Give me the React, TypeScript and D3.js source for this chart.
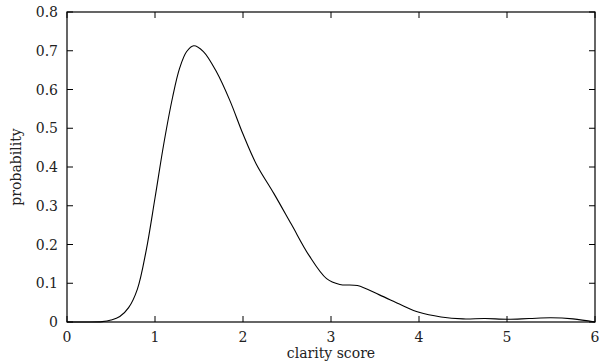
import React from "react";
import * as d3 from "d3";

const xs = [0, 0.2, 0.4, 0.5, 0.6, 0.7, 0.8, 0.9, 1.0, 1.1, 1.2, 1.28, 1.36, 1.44, 1.55, 1.7, 1.85, 2.0, 2.15, 2.35, 2.55, 2.75, 2.95, 3.1, 3.3, 3.55, 3.8, 4.0, 4.25, 4.5, 4.75, 5.0, 5.25, 5.5, 5.75, 6.0];
const ys = [0, 0, 0.001, 0.005, 0.014, 0.037, 0.085, 0.185, 0.32, 0.46, 0.58, 0.655, 0.698, 0.713, 0.698, 0.645, 0.572, 0.485, 0.408, 0.332, 0.252, 0.172, 0.112, 0.097, 0.094, 0.07, 0.044, 0.025, 0.013, 0.008, 0.009, 0.007, 0.009, 0.011, 0.008, 0.0];
const xTicks = [0, 1, 2, 3, 4, 5, 6];
const yTicks = [0, 0.1, 0.2, 0.3, 0.4, 0.5, 0.6, 0.7, 0.8];

const W = 600, H = 364;
const L = 67, R = 595, T = 12, B = 322;
const font = "'DejaVu Serif', serif";

export default function App() {
  const x = d3.scaleLinear().domain([0, 6]).range([L, R]);
  const y = d3.scaleLinear().domain([0, 0.8]).range([B, T]);
  const pts = xs.map((v, i) => [v, ys[i]] as [number, number]);
  const line = d3.line<[number, number]>().x(d => x(d[0])).y(d => y(Math.max(0, d[1]))).curve(d3.curveCatmullRom.alpha(0.5));
  const tick = 6;
  return (
    <svg width={W} height={H} style={{ position: "absolute", left: 0, top: 0 }}>
      <rect x={0} y={0} width={W} height={H} fill="white" />
      <rect x={L} y={T} width={R - L} height={B - T} fill="none" stroke="black" strokeWidth={1.2} />
      {xTicks.map(t => (
        <g key={"x" + t}>
          <line x1={x(t)} x2={x(t)} y1={B} y2={B - tick} stroke="black" strokeWidth={1} />
          <line x1={x(t)} x2={x(t)} y1={T} y2={T + tick} stroke="black" strokeWidth={1} />
          <text x={x(t)} y={B + 20} textAnchor="middle" fontFamily={font} fontSize={14} fill="#222">{t}</text>
        </g>
      ))}
      {yTicks.map(t => (
        <g key={"y" + t}>
          <line x1={L} x2={L + tick} y1={y(t)} y2={y(t)} stroke="black" strokeWidth={1} />
          <line x1={R} x2={R - tick} y1={y(t)} y2={y(t)} stroke="black" strokeWidth={1} />
          <text x={L - 9} y={y(t) + 5} textAnchor="end" fontFamily={font} fontSize={14} fill="#222">{t === 0 ? "0" : d3.format(".1f")(t)}</text>
        </g>
      ))}
      <path d={line(pts) || ""} fill="none" stroke="black" strokeWidth={1.1} />
      <text x={(L + R) / 2} y={358} textAnchor="middle" fontFamily={font} fontSize={14} fill="#222">clarity score</text>
      <text transform={`translate(21,${(T + B) / 2}) rotate(-90)`} textAnchor="middle" fontFamily={font} fontSize={14} fill="#222">probability</text>
    </svg>
  );
}
